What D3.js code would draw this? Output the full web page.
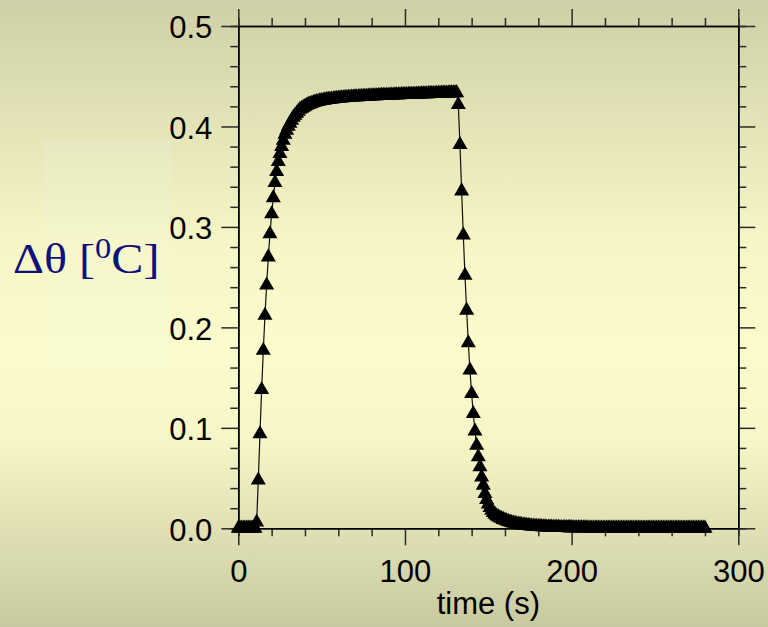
<!DOCTYPE html>
<html>
<head>
<meta charset="utf-8">
<script src="https://cdn.jsdelivr.net/npm/d3@7"></script>
<style>
	html, body { margin: 0; padding: 0; }
	body { width: 768px; height: 627px; overflow: hidden; }
	.tick text { font-family: "Liberation Sans", Arial, sans-serif; font-size: 31px; fill: #000; }
</style>
</head>
<body>
<script>
var timeStep = 1;
var deltaTheta = [
	0, 0, 0, 0, 0, 0, 0, 0, 0, 0,
	0, 0.006, 0.048, 0.094, 0.138, 0.177, 0.212, 0.242, 0.270, 0.293,
	0.313, 0.329, 0.344, 0.355, 0.365, 0.373, 0.380, 0.386, 0.392, 0.396,
	0.400, 0.403, 0.406, 0.409, 0.411, 0.413, 0.415, 0.417, 0.418, 0.419,
	0.420, 0.421, 0.422, 0.4223, 0.4230, 0.4236, 0.4241, 0.4246, 0.4250, 0.4254,
	0.4257, 0.4260, 0.4263, 0.4266, 0.4268, 0.4270, 0.4272, 0.4274, 0.4276, 0.4278,
	0.4280, 0.4281, 0.4283, 0.4284, 0.4286, 0.4287, 0.4288, 0.4290, 0.4291, 0.4292,
	0.4293, 0.4294, 0.4295, 0.4296, 0.4297, 0.4298, 0.4299, 0.4300, 0.4301, 0.4302,
	0.4303, 0.4304, 0.4305, 0.4305, 0.4306, 0.4307, 0.4308, 0.4308, 0.4309, 0.4310,
	0.4310, 0.4311, 0.4312, 0.4312, 0.4313, 0.4314, 0.4314, 0.4315, 0.4316, 0.4316,
	0.4317, 0.4317, 0.4318, 0.4319, 0.4319, 0.4320, 0.4320, 0.4321, 0.4322, 0.4322,
	0.4323, 0.4323, 0.4324, 0.4324, 0.4325, 0.4326, 0.4326, 0.4327, 0.4327, 0.4328,
	0.4329, 0.4329, 0.4330, 0.4330, 0.4331, 0.4331, 0.4332, 0.4333, 0.4333, 0.4334,
	0.4334, 0.4335, 0.4217, 0.3818, 0.3357, 0.2917, 0.2518, 0.2170, 0.1845, 0.1573,
	0.1340, 0.1140, 0.0966, 0.0826, 0.0710, 0.0610, 0.0510, 0.0428, 0.0345, 0.0285,
	0.0240, 0.0205, 0.0178, 0.0156, 0.0138, 0.0124, 0.0113, 0.0103, 0.0095, 0.0087,
	0.0080, 0.0073, 0.0067, 0.0062, 0.0057, 0.0052, 0.0048, 0.0044, 0.0041, 0.0038,
	0.0035, 0.0032, 0.0030, 0.0028, 0.0026, 0.0024, 0.0022, 0.0021, 0.0019, 0.0018,
	0.0017, 0.0016, 0.0015, 0.0014, 0.0013, 0.0012, 0.0011, 0.0011, 0.0010, 0.0009,
	0.0009, 0.0008, 0.0008, 0.0007, 0.0007, 0.0006, 0.0006, 0.0006, 0.0005, 0.0005,
	0.0005, 0.0004, 0.0004, 0.0004, 0.0004, 0.0003, 0.0003, 0.0003, 0.0003, 0.0003,
	0.0002, 0.0002, 0.0002, 0.0002, 0.0002, 0.0002, 0.0001, 0.0001, 0.0001, 0.0001,
	0.0001, 0.0001, 0.0001, 0.0001, 0.0001, 0.0001, 0, 0, 0, 0,
	0, 0, 0, 0, 0, 0, 0, 0, 0, 0,
	0, 0, 0, 0, 0, 0, 0, 0, 0, 0,
	0, 0, 0, 0, 0, 0, 0, 0, 0, 0,
	0, 0, 0, 0, 0, 0, 0, 0, 0, 0,
	0, 0, 0, 0, 0, 0, 0, 0, 0, 0,
	0
];
var xMajorTicks = [0, 100, 200, 300];
var xMinorTicks = [20, 40, 60, 80, 120, 140, 160, 180, 220, 240, 260, 280];
var yMajorTicks = [0, 0.1, 0.2, 0.3, 0.4, 0.5];
var yMinorTicks = [0.02, 0.04, 0.06, 0.08, 0.12, 0.14, 0.16, 0.18, 0.22, 0.24, 0.26, 0.28,
	0.32, 0.34, 0.36, 0.38, 0.42, 0.44, 0.46, 0.48];
var xLabel = "time (s)";

var points = deltaTheta.map(function(v, i) { return {t: i * timeStep, v: v}; });

var svg = d3.select("body")
	.append("svg")
	.attr("width", 768)
	.attr("height", 627);

// background
var defs = svg.append("defs");
var grad = defs.append("linearGradient")
	.attr("id", "bg")
	.attr("x1", 0).attr("y1", 0)
	.attr("x2", 0).attr("y2", 1);
grad.append("stop").attr("offset", "0%").attr("stop-color", "#d0d0a8");
grad.append("stop").attr("offset", "38%").attr("stop-color", "#f5f5c5");
grad.append("stop").attr("offset", "56%").attr("stop-color", "#fbfbcb");
grad.append("stop").attr("offset", "70%").attr("stop-color", "#f6f6c6");
grad.append("stop").attr("offset", "100%").attr("stop-color", "#c9c9a1");
svg.append("rect")
	.attr("width", 768)
	.attr("height", 627)
	.style("fill", "url(#bg)");

// pale box behind the y label
svg.append("rect")
	.attr("x", 43)
	.attr("y", 140)
	.attr("width", 128)
	.attr("height", 233)
	.style("fill", "#ffffff")
	.style("opacity", 0.1);

var x = d3.scaleLinear().domain([0, 300]).range([238.3, 738.3]);
var y = d3.scaleLinear().domain([0, 0.5]).range([528.3, 26]);

function styleAxis(g) {
	g.selectAll(".domain").style("stroke", "#000").style("stroke-width", 1.5);
	g.selectAll(".tick line").style("stroke", "#2a2a2a").style("stroke-width", 1.5);
}

// minor ticks
svg.append("g").attr("transform", "translate(0," + y(0) + ")")
	.call(d3.axisBottom(x).tickValues(xMinorTicks).tickSize(8).tickFormat(""))
	.call(styleAxis);
svg.append("g").attr("transform", "translate(0," + y(0.5) + ")")
	.call(d3.axisTop(x).tickValues(xMinorTicks).tickSize(8).tickFormat(""))
	.call(styleAxis);
svg.append("g").attr("transform", "translate(" + x(0) + ",0)")
	.call(d3.axisLeft(y).tickValues(yMinorTicks).tickSize(8).tickFormat(""))
	.call(styleAxis);
svg.append("g").attr("transform", "translate(" + x(300) + ",0)")
	.call(d3.axisRight(y).tickValues(yMinorTicks).tickSize(8).tickFormat(""))
	.call(styleAxis);

// major ticks
var bottomAxis = svg.append("g").attr("transform", "translate(0," + y(0) + ")")
	.call(d3.axisBottom(x).tickValues(xMajorTicks).tickSize(17).tickSizeOuter(0).tickPadding(15))
	.call(styleAxis);
svg.append("g").attr("transform", "translate(0," + y(0.5) + ")")
	.call(d3.axisTop(x).tickValues(xMajorTicks).tickSize(17).tickSizeOuter(0).tickFormat(""))
	.call(styleAxis);
var leftAxis = svg.append("g").attr("transform", "translate(" + x(0) + ",0)")
	.call(d3.axisLeft(y).tickValues(yMajorTicks).tickSize(17).tickSizeOuter(0).tickPadding(9).tickFormat(d3.format(".1f")))
	.call(styleAxis);
leftAxis.selectAll(".tick text").attr("dy", "0.38em");
svg.append("g").attr("transform", "translate(" + x(300) + ",0)")
	.call(d3.axisRight(y).tickValues(yMajorTicks).tickSize(17).tickSizeOuter(0).tickFormat(""))
	.call(styleAxis);

// series
var line = d3.line()
	.x(function(d) { return x(d.t); })
	.y(function(d) { return y(d.v); });
svg.append("path")
	.datum(points)
	.attr("d", line)
	.style("fill", "none")
	.style("stroke", "#111")
	.style("stroke-width", 1.2);

var tri = d3.symbol().type(d3.symbolTriangle).size(98);
svg.append("g")
	.selectAll("path")
	.data(points)
	.enter()
	.append("path")
	.attr("transform", function(d) { return "translate(" + x(d.t) + "," + y(d.v) + ")"; })
	.attr("d", tri)
	.style("fill", "#000");

// axis titles
svg.append("text")
	.attr("x", (x(0) + x(300)) / 2)
	.attr("y", 614)
	.attr("text-anchor", "middle")
	.style("font-family", "'Liberation Sans', Arial, sans-serif")
	.style("font-size", "31px")
	.style("fill", "#000")
	.text(xLabel);

var yTitle = svg.append("text")
	.attr("transform", "translate(13,273) scale(1.12,1)")
	.style("font-family", "'Liberation Serif', 'Times New Roman', serif")
	.style("font-size", "43px")
	.style("fill", "#10107a");
yTitle.append("tspan").text("\u0394\u03b8 [");
yTitle.append("tspan").attr("dy", -15).style("font-size", "29px").text("0");
yTitle.append("tspan").attr("dy", 15).text("C]");
</script>
</body>
</html>
